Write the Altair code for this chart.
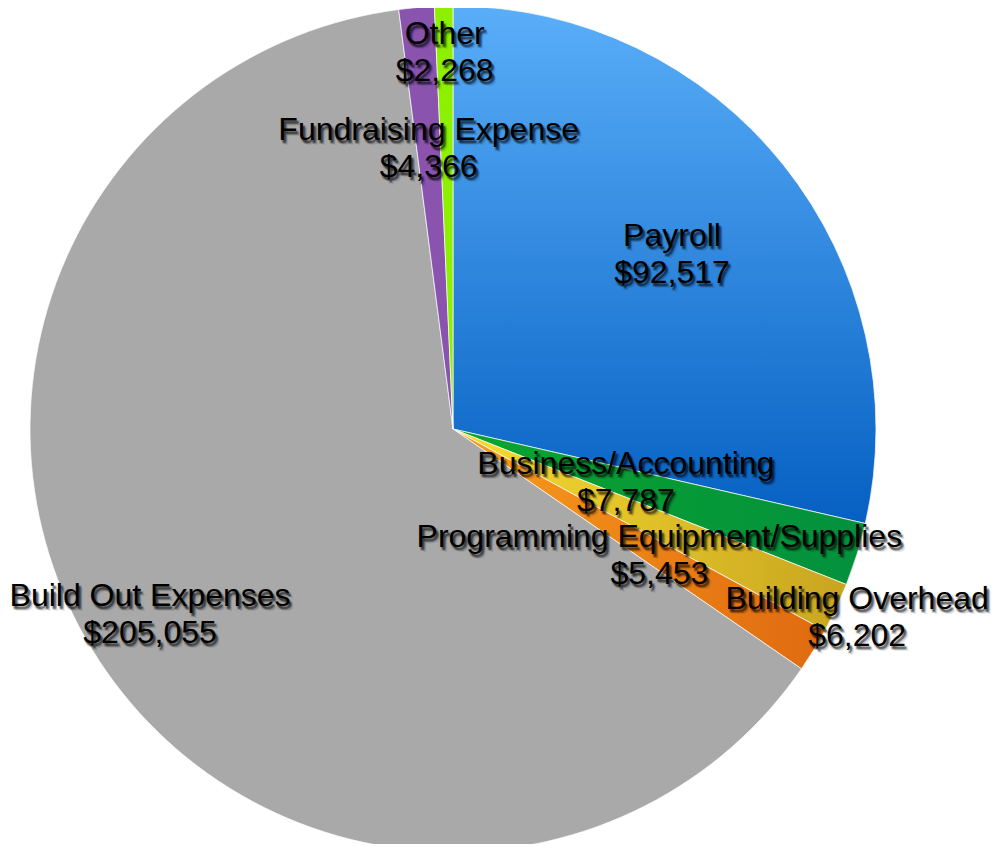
import altair as alt
import pandas as pd

categories = ["Payroll", "Business/Accounting", "Building Overhead",
              "Programming Equipment/Supplies", "Build Out Expenses",
              "Fundraising Expense", "Other"]
values = [92517, 7787, 6202, 5453, 205055, 4366, 2268]

df = pd.DataFrame({
    "category": categories,
    "value": values,
    "order": list(range(len(categories))),
})
df["label"] = [f"{c}\n${v:,}" for c, v in zip(categories, values)]

total = sum(values)
theta_scale = alt.Scale(domain=[0, total], range=[0, 6.283185307179586])

CX, CY, R = 445, 421, 423
FS, LH = 32, 37

def grad(c1, c2, x1=0, y1=0, x2=0, y2=1):
    return alt.LinearGradient(
        gradient="linear",
        stops=[alt.GradientStop(offset=0, color=c1), alt.GradientStop(offset=1, color=c2)],
        x1=x1, y1=y1, x2=x2, y2=y2,
    )

fills = {
    "Payroll": grad("#5aaef9", "#0560c2", 0, 0, 0, 1),
    "Business/Accounting": grad("#0aa52e", "#03903e", 0, 0, 1, 0),
    "Building Overhead": grad("#f6dc30", "#c9a520", 0, 0, 1, 0),
    "Programming Equipment/Supplies": grad("#f99c1c", "#df6a10", 0, 0, 1, 0),
    "Build Out Expenses": "#a9a9a9",
    "Fundraising Expense": "#8953ae",
    "Other": "#8cf000",
}
label_radius = {
    "Payroll": 280,
    "Business/Accounting": 181,
    "Building Overhead": 446,
    "Programming Equipment/Supplies": 242,
    "Build Out Expenses": 355,
    "Fundraising Expense": 282,
    "Other": 377,
}

base = alt.Chart(df).transform_window(
    cum="sum(value)", sort=[alt.SortField("order")], frame=[None, 0]
).transform_calculate(
    start="datum.cum - datum.value",
    mid="datum.cum - datum.value / 2",
)

layers = []
for cat in categories:
    layers.append(
        base.transform_filter(alt.datum.category == cat)
        .mark_arc(radius=R, fill=fills[cat], stroke="white", strokeWidth=1, strokeOpacity=0.7)
        .encode(
            theta=alt.Theta("start:Q", scale=theta_scale),
            theta2="cum:Q",
            x=alt.value(CX),
            y=alt.value(CY),
        )
    )

shadow_offsets = [(2, 3, 0.35), (1, 2, 0.15), (3, 4, 0.15), (3, 2, 0.12), (1, 4, 0.12), (4, 5, 0.08)]
for cat in categories:
    for dx, dy, op in shadow_offsets + [(0, 0, 1.0)]:
        layers.append(
            base.transform_filter(alt.datum.category == cat)
            .mark_text(radius=label_radius[cat], dx=dx, dy=dy - LH / 2, font="Liberation Sans",
                       fontSize=FS, lineHeight=LH, lineBreak="\n", align="center",
                       baseline="middle", color="black", opacity=op)
            .encode(
                theta=alt.Theta("mid:Q", scale=theta_scale),
                text="label:N",
                x=alt.value(CX),
                y=alt.value(CY),
            )
        )

chart = alt.layer(*layers).properties(
    width=984, height=836, padding=0, autosize=alt.AutoSizeParams(type="none")
).configure_view(stroke=None)

chart.save("out.html", embed_options={"renderer": "svg", "actions": False})
